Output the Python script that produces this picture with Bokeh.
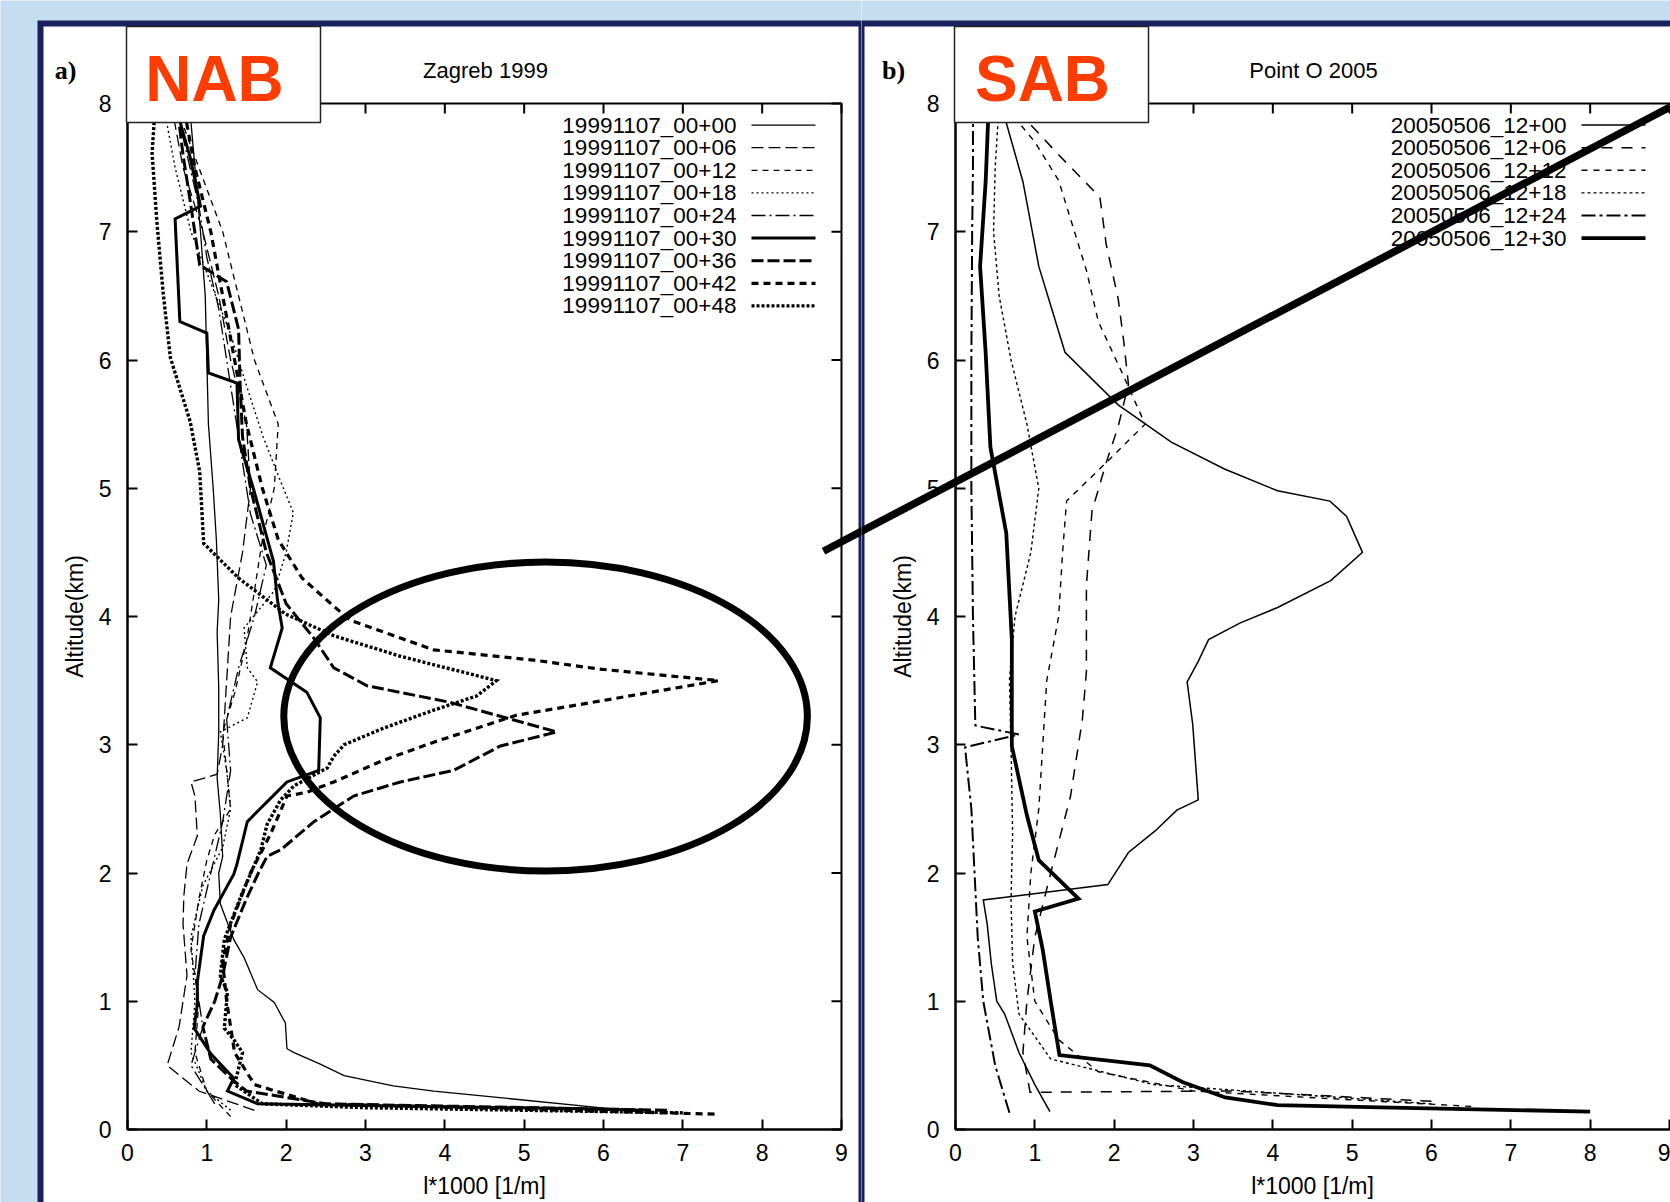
from bokeh.plotting import figure
from bokeh.layouts import row
from bokeh.models import Range1d, LinearAxis, FixedTicker, BoxAnnotation, Label, Arrow
from bokeh.core.properties import value
from bokeh.embed import file_html
from bokeh.resources import INLINE

# ---------------- data: Zagreb 1999 (panel a) ----------------
ZAG_LABELS = ["19991107_00+00", "19991107_00+06", "19991107_00+12", "19991107_00+18",
              "19991107_00+24", "19991107_00+30", "19991107_00+36", "19991107_00+42",
              "19991107_00+48"]

ZAG_00_L = [6.60, 5.95, 3.86, 3.35, 2.73, 2.43, 2.10, 2.01, 1.99, 1.85, 1.64, 1.47, 1.34, 1.17, 1.15,
            1.20, 1.17, 1.13, 1.15, 1.15, 1.13, 1.15, 1.12, 1.08, 1.02, 1.00, 0.98, 0.92, 0.85, 0.78]
ZAG_00_Z = [0.13, 0.17, 0.30, 0.34, 0.42, 0.51, 0.60, 0.63, 0.83, 0.99, 1.09, 1.34, 1.48, 1.76, 2.00,
            2.13, 2.46, 2.74, 3.10, 3.44, 3.88, 4.13, 4.60, 5.00, 5.50, 6.00, 6.50, 7.00, 7.50, 8.00]

ZAG_06_L = [1.60, 0.90, 0.50, 0.65, 0.75, 0.70, 0.71, 0.75, 0.88, 0.85, 0.80, 1.13, 1.20, 1.25, 1.30,
            1.45, 1.55, 1.50, 1.30, 1.15, 0.95, 0.70, 0.55]
ZAG_06_Z = [0.15, 0.30, 0.50, 0.80, 1.20, 1.60, 1.82, 2.07, 2.29, 2.60, 2.71, 2.77, 3.00, 3.50, 4.00,
            4.50, 5.00, 5.50, 6.00, 6.50, 7.00, 7.50, 8.00]

ZAG_12_L = [1.30, 1.00, 0.85, 0.90, 0.80, 0.90, 1.00, 1.10, 1.30, 1.25, 1.20, 1.35, 1.50, 1.60, 1.70,
            1.85, 1.90, 1.60, 1.40, 1.20, 0.90, 0.60]
ZAG_12_Z = [0.10, 0.30, 0.60, 1.00, 1.40, 1.80, 2.10, 2.30, 2.50, 2.80, 3.10, 3.40, 3.80, 4.20, 4.60,
            5.00, 5.50, 6.00, 6.50, 7.00, 7.50, 8.00]

ZAG_18_L = [1.30, 1.00, 0.80, 0.85, 0.80, 0.95, 1.20, 1.30, 1.25, 1.17, 1.51, 1.64, 1.51, 1.47, 1.85,
            2.00, 2.09, 1.90, 1.71, 1.50, 1.30, 1.05, 0.80, 0.60, 0.45]
ZAG_18_Z = [0.15, 0.30, 0.60, 1.00, 1.50, 1.90, 2.20, 2.50, 2.80, 3.10, 3.21, 3.49, 3.60, 3.91, 4.20,
            4.50, 4.81, 5.10, 5.40, 5.80, 6.20, 6.60, 7.00, 7.50, 8.00]

ZAG_24_L = [1.10, 0.80, 0.95, 0.85, 0.90, 1.05, 1.20, 1.30, 1.25, 1.40, 1.60, 1.75, 1.55, 1.45, 1.35,
            1.25, 1.15, 1.00, 0.90, 0.75, 0.60]
ZAG_24_Z = [0.20, 0.50, 0.80, 1.20, 1.60, 2.00, 2.40, 2.80, 3.20, 3.60, 4.00, 4.40, 4.80, 5.20, 5.60,
            6.00, 6.40, 6.80, 7.20, 7.60, 8.00]

ZAG_30_L = [6.50, 5.95, 1.64, 1.26, 1.34, 1.05, 0.84, 0.88, 0.88, 0.96, 1.09, 1.34, 1.38, 1.51, 2.01,
            2.41, 2.43, 2.26, 1.80, 1.95, 1.89, 1.84, 1.59, 1.40, 1.38, 1.02, 1.00, 0.66, 0.60, 0.92,
            0.79, 0.66, 0.62]
ZAG_30_Z = [0.15, 0.16, 0.20, 0.30, 0.40, 0.59, 0.79, 0.98, 1.15, 1.51, 1.71, 1.99, 2.07, 2.40, 2.71,
            2.80, 3.21, 3.41, 3.60, 3.91, 4.13, 4.43, 4.99, 5.38, 5.82, 5.90, 6.21, 6.30, 7.10, 7.20,
            7.58, 7.86, 8.00]

ZAG_36_L = [6.80, 2.50, 1.50, 1.30, 1.05, 0.95, 1.10, 1.20, 1.30, 1.50, 1.65, 1.76, 1.93, 2.35, 2.85,
            3.44, 4.11, 4.70, 5.41, 4.07, 3.02, 2.60, 2.35, 2.00, 1.75, 1.55, 1.45, 1.42, 1.40, 1.25,
            0.91, 0.80, 0.70, 0.62]
ZAG_36_Z = [0.15, 0.20, 0.30, 0.40, 0.55, 0.80, 1.00, 1.20, 1.50, 1.80, 2.00, 2.13, 2.18, 2.40, 2.60,
            2.71, 2.80, 2.99, 3.10, 3.33, 3.46, 3.60, 3.83, 4.10, 4.50, 5.00, 5.40, 5.80, 6.24, 6.61,
            6.74, 7.20, 7.60, 8.00]

ZAG_42_L = [7.40, 5.50, 2.40, 1.60, 1.35, 1.30, 1.25, 1.20, 1.30, 1.55, 1.80, 2.01, 2.26, 2.60, 3.23,
            3.86, 4.90, 5.95, 7.45, 5.95, 5.12, 3.86, 2.81, 2.60, 2.20, 1.90, 1.70, 1.50, 1.35, 1.20,
            1.05, 0.85, 0.70]
ZAG_42_Z = [0.12, 0.15, 0.20, 0.35, 0.60, 0.80, 1.00, 1.30, 1.60, 2.00, 2.30, 2.60, 2.63, 2.71, 2.88,
            3.02, 3.23, 3.34, 3.50, 3.59, 3.66, 3.74, 3.97, 4.08, 4.30, 4.60, 5.00, 5.50, 6.00, 6.50,
            7.00, 7.50, 8.00]

ZAG_48_L = [7.00, 3.00, 1.70, 1.35, 1.45, 1.34, 1.22, 1.26, 1.17, 1.22, 1.43, 1.68, 1.76, 1.93, 2.10,
            2.52, 2.60, 2.73, 3.23, 3.86, 4.40, 4.65, 3.44, 2.60, 1.99, 1.40, 0.96, 0.91, 0.79, 0.54,
            0.45, 0.37, 0.31, 0.35]
ZAG_48_Z = [0.13, 0.17, 0.20, 0.35, 0.60, 0.70, 0.79, 1.07, 1.20, 1.48, 1.82, 2.18, 2.38, 2.57, 2.68,
            2.82, 2.91, 3.00, 3.13, 3.27, 3.38, 3.50, 3.69, 3.85, 4.02, 4.30, 4.57, 5.13, 5.52, 6.02,
            6.52, 7.08, 7.61, 8.00]

# ---------------- data: Point O 2005 (panel b) ----------------
PO_LABELS = ["20050506_12+00", "20050506_12+06", "20050506_12+12", "20050506_12+18",
             "20050506_12+24", "20050506_12+30"]

PO_00_L = [1.19, 1.00, 0.80, 0.62, 0.52, 0.45, 0.40, 0.35, 1.92, 2.18, 2.52, 2.79, 3.06, 2.99, 2.92,
           3.06, 3.19, 3.59, 4.06, 4.73, 5.13, 4.93, 4.72, 4.06, 3.39, 2.72, 2.05, 1.38, 1.05, 0.85,
           0.64, 0.60]
PO_00_Z = [0.14, 0.35, 0.60, 0.90, 1.00, 1.30, 1.60, 1.79, 1.91, 2.16, 2.33, 2.49, 2.57, 3.16, 3.49,
           3.65, 3.82, 3.95, 4.07, 4.28, 4.50, 4.78, 4.90, 4.98, 5.15, 5.36, 5.65, 6.06, 6.73, 7.39,
           7.85, 8.00]

PO_06_L = [6.00, 3.50, 0.94, 0.85, 0.90, 1.00, 1.20, 1.45, 1.60, 1.65, 1.65, 1.72, 1.90, 2.05, 2.18,
           2.12, 2.05, 1.90, 1.82, 1.30, 0.70]
PO_06_Z = [0.22, 0.30, 0.29, 0.60, 1.00, 1.50, 2.00, 2.60, 3.20, 3.57, 4.24, 4.82, 5.20, 5.48, 5.81,
           6.15, 6.48, 6.90, 7.27, 7.60, 8.00]

PO_12_L = [6.50, 3.00, 1.80, 1.30, 1.00, 0.90, 0.95, 1.05, 1.10, 1.15, 1.30, 1.35, 1.40, 1.90, 2.39,
           2.10, 1.80, 1.65, 1.50, 1.30, 1.00, 0.60]
PO_12_Z = [0.18, 0.30, 0.45, 0.70, 1.00, 1.50, 2.00, 2.50, 3.00, 3.50, 4.00, 4.50, 4.90, 5.20, 5.50,
           5.90, 6.30, 6.70, 7.00, 7.40, 7.70, 8.00]

PO_18_L = [6.00, 2.50, 1.20, 0.80, 0.72, 0.70, 0.72, 0.70, 0.68, 0.75, 0.95, 1.05, 0.90, 0.70, 0.55,
           0.48, 0.50, 0.55]
PO_18_Z = [0.20, 0.35, 0.55, 0.90, 1.30, 1.80, 2.30, 3.00, 3.50, 4.00, 4.50, 5.00, 5.50, 6.00, 6.50,
           7.00, 7.50, 8.00]

PO_24_L = [0.68, 0.50, 0.35, 0.28, 0.24, 0.20, 0.12, 0.80, 0.25, 0.22, 0.20, 0.20, 0.21, 0.22, 0.22]
PO_24_Z = [0.13, 0.50, 1.00, 1.50, 2.00, 2.50, 2.98, 3.08, 3.15, 4.00, 5.00, 6.00, 7.00, 7.50, 8.00]

PO_30_L = [8.00, 5.50, 4.06, 3.40, 2.86, 2.45, 1.31, 1.20, 1.10, 1.00, 1.55, 1.05, 0.90, 0.71, 0.71,
           0.64, 0.44, 0.38, 0.31, 0.38, 0.42]
PO_30_Z = [0.14, 0.17, 0.19, 0.25, 0.37, 0.50, 0.58, 1.00, 1.40, 1.70, 1.80, 2.10, 2.45, 2.99, 3.82,
           4.65, 5.32, 6.06, 6.73, 7.39, 8.00]

X_TICKS = [0, 1, 2, 3, 4, 5, 6, 7, 8, 9]
Y_TICKS = [0, 1, 2, 3, 4, 5, 6, 7, 8]

# ---------------- styling / layout constants (canvas pixels) ----------------
BG = "#c6dcef"
NAVY = "#18205e"
RED = "#ff3c00"
FONT = "Liberation Sans"
H = 1202
W1, W2 = 861, 809
FT, FB = 103, 1129           # plot-area top / bottom
FL1, FR1 = 127, 841          # left panel plot-area
FL2 = 94                     # right panel plot-area left
PXU = (FR1 - FL1) / 9.0
PYU = (FB - FT) / 8.0
PANEL_OFFSET = (W1 + FL2 - FL1) / PXU
BORDER = 6

ZAG_STYLES = [(1.3, "solid"), (1.3, "12 5"), (1.3, "6 5"), (1.4, "2 3"), (1.3, "14 4 2 4"),
              (3.0, "solid"), (3.0, "12 4"), (3.2, "7 5"), (3.4, "3 2")]
PO_STYLES = [(1.5, "solid"), (1.5, "11 9"), (1.4, "6 6"), (1.4, "3 3"), (2.0, "14 4 3 4"), (3.8, "solid")]

ELLIPSE = dict(x=5.27, y=3.22, w=6.60, h=2.41)
DIAG = ((8.773, 4.509), (19.444, 7.973))   # in panel-a data units


def make_panel(width, fl, right_ticks):
    X = lambda cx: (cx - fl) / PXU
    Y = lambda cy: (FB - cy) / PYU
    p = figure(width=width, height=H, x_range=Range1d(X(0), X(width)), y_range=Range1d(Y(H), Y(0)),
               x_axis_location=None, y_axis_location=None, output_backend="svg",
               toolbar_location=None, min_border=0, min_border_left=0, min_border_right=0,
               min_border_top=0, min_border_bottom=0)
    p.border_fill_color = BG
    p.background_fill_color = BG
    p.outline_line_color = None
    p.grid.grid_line_color = None

    # navy panel frame (filled) with white interior
    if right_ticks:
        outer = (37, width + 10)
        inner = (37 + BORDER, width - 3)
    else:
        outer = (-10, width + 60)
        inner = (3, width + 60)
    p.add_layout(BoxAnnotation(left=X(outer[0]), right=X(outer[1]), top=Y(20), bottom=Y(H + 60),
                               fill_color=NAVY, fill_alpha=1, line_color=None, level="underlay"))
    p.add_layout(BoxAnnotation(left=X(inner[0]), right=X(inner[1]), top=Y(20 + BORDER),
                               bottom=Y(H + 60), fill_color="white", fill_alpha=1, line_color=None,
                               level="underlay"))
    # plot-area outline
    p.add_layout(BoxAnnotation(left=0, right=9 if right_ticks else X(width + 20), bottom=0, top=8,
                               fill_color=None, fill_alpha=0, line_color="black", line_width=2,
                               line_alpha=1, level="underlay"))

    bottom = LinearAxis(ticker=FixedTicker(ticks=X_TICKS), fixed_location=0, bounds=(0, 9),
                        axis_label="l*1000 [1/m]")
    left = LinearAxis(ticker=FixedTicker(ticks=Y_TICKS), fixed_location=0, bounds=(0, 8),
                      axis_label="Altitude(km)")
    for ax in (bottom, left):
        ax.major_tick_in = 10
        ax.major_tick_out = 0
        ax.minor_tick_line_color = None
        ax.axis_line_width = 2
        ax.major_tick_line_width = 2
        ax.axis_line_color = "black"
        ax.major_tick_line_color = "black"
        ax.major_label_text_font = FONT
        ax.major_label_text_font_size = "23px"
        ax.major_label_text_color = "black"
        ax.axis_label_text_font = FONT
        ax.axis_label_text_font_size = "23px"
        ax.axis_label_text_font_style = "normal"
        ax.axis_label_text_color = "black"
    bottom.major_label_standoff = 14
    bottom.axis_label_standoff = 9
    left.major_label_standoff = 16
    left.axis_label_standoff = 8
    p.add_layout(bottom, "below")
    p.add_layout(left, "left")

    # inner ticks on the top (and right) edge, at the same tick values
    tx = 10 / PYU
    p.segment(x0=X_TICKS, x1=X_TICKS, y0=[8] * len(X_TICKS), y1=[8 - tx] * len(X_TICKS),
              line_color="black", line_width=2)
    if right_ticks:
        ty = 10 / PXU
        p.segment(x0=[9] * len(Y_TICKS), x1=[9 - ty] * len(Y_TICKS), y0=Y_TICKS, y1=Y_TICKS,
                  line_color="black", line_width=2)
    return p, X, Y


def decorate(p, X, Y, fl, tag, big, title):
    p.add_layout(Label(x=X(fl - 62), y=Y(70), text=tag, text_align="center", text_baseline="middle",
                       text_font="Liberation Serif", text_font_style="bold", text_font_size="26px",
                       text_color="black"))
    p.add_layout(Label(x=X(fl + 358), y=Y(70), text=title, text_align="center", text_baseline="middle",
                       text_font=FONT, text_font_size="22px", text_color="black"))
    p.add_layout(BoxAnnotation(left=X(fl - 1), right=X(fl + 193), top=Y(26), bottom=Y(122),
                               fill_color="white", fill_alpha=1, line_color="#222222",
                               line_width=1.5, line_alpha=1, level="overlay"))
    p.add_layout(Label(x=X(fl + 87), y=Y(78), text=big, text_align="center", text_baseline="middle",
                       text_font=FONT, text_font_style="bold", text_font_size="64px",
                       text_color=RED, level="overlay"))


def add_series(p, X, Y, series, labels, styles, legend_text_px, sample_px):
    ys = [Y(124.6 + i * 22.6) for i in range(len(labels))]
    for (lx, lz), (lw, dash), yy in zip(series, styles, ys):
        p.line(lx, lz, line_color="black", line_width=lw, line_dash=dash, line_join="miter")
        p.line([X(sample_px[0]), X(sample_px[1])], [yy, yy], line_color="black", line_width=lw,
               line_dash=dash)
    p.text(x=[X(legend_text_px)] * len(labels), y=ys, text=labels, text_align="right",
           text_baseline="middle", text_font=value(FONT), text_font_size="22.5px", text_color="black")


(dx0, dy0), (dx1, dy1) = DIAG
slope = (dy1 - dy0) / (dx1 - dx0)

# ---------------- panel a ----------------
p1, X1, Y1 = make_panel(W1, FL1, True)
add_series(p1, X1, Y1,
           [(ZAG_00_L, ZAG_00_Z), (ZAG_06_L, ZAG_06_Z), (ZAG_12_L, ZAG_12_Z),
            (ZAG_18_L, ZAG_18_Z), (ZAG_24_L, ZAG_24_Z), (ZAG_30_L, ZAG_30_Z),
            (ZAG_36_L, ZAG_36_Z), (ZAG_42_L, ZAG_42_Z), (ZAG_48_L, ZAG_48_Z)],
           ZAG_LABELS, ZAG_STYLES, 736, (751, 815))
p1.ellipse(x=[ELLIPSE["x"]], y=[ELLIPSE["y"]], width=ELLIPSE["w"], height=ELLIPSE["h"],
           fill_color=None, line_color="black", line_width=7)
decorate(p1, X1, Y1, FL1, "a)", "NAB", "Zagreb 1999")
e1 = X1(W1 + 20)
p1.add_layout(Arrow(end=None, x_start=dx0, y_start=dy0, x_end=e1, y_end=dy0 + slope * (e1 - dx0),
                    line_color="black", line_width=7.5))

# ---------------- panel b ----------------
p2, X2, Y2 = make_panel(W2, FL2, False)
add_series(p2, X2, Y2,
           [(PO_00_L, PO_00_Z), (PO_06_L, PO_06_Z), (PO_12_L, PO_12_Z),
            (PO_18_L, PO_18_Z), (PO_24_L, PO_24_Z), (PO_30_L, PO_30_Z)],
           PO_LABELS, PO_STYLES, 705, (720, 784))
decorate(p2, X2, Y2, FL2, "b)", "SAB", "Point O 2005")
s2 = X2(-20)
p2.add_layout(Arrow(end=None, x_start=s2, y_start=dy0 + slope * (s2 + PANEL_OFFSET - dx0),
                    x_end=dx1 - PANEL_OFFSET, y_end=dy1, line_color="black", line_width=7.5))

layout = row(p1, p2, spacing=0)
open("out.html", "w").write(file_html(layout, INLINE))
